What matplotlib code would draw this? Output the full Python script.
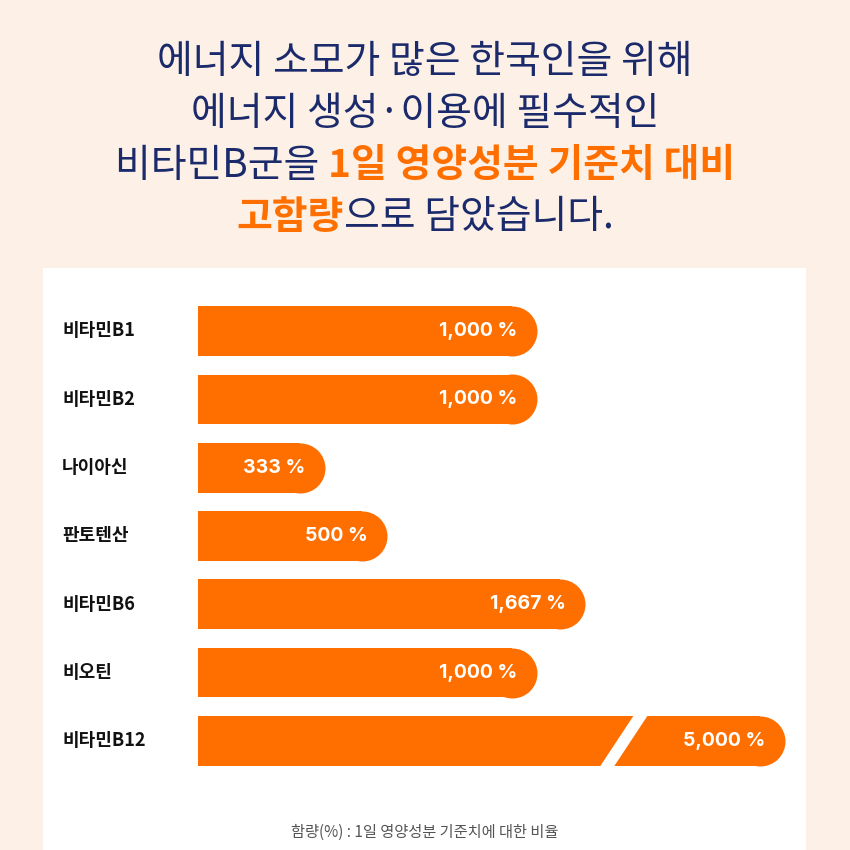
import matplotlib
matplotlib.use("Agg")
import matplotlib.pyplot as plt
import numpy as np
from matplotlib.patches import Rectangle, Polygon

plt.rcParams['font.family'] = ['Noto Sans CJK KR', 'DejaVu Sans']

categories = ["비타민B1", "비타민B2", "나이아신", "판토텐산", "비타민B6", "비오틴", "비타민B12"]
values = [1000, 1000, 333, 500, 1667, 1000, 5000]
value_labels = ["1,000 %", "1,000 %", "333 %", "500 %", "1,667 %", "1,000 %", "5,000 %"]
title_lines = [
    [("에너지 소모가 많은 한국인을 위해", False)],
    [("에너지 생성·이용에 필수적인", False)],
    [("비타민B군을 ", False), ("1일 영양성분 기준치 대비", True)],
    [("고함량", True), ("으로 담았습니다.", False)],
]
footnote = "함량(%) : 1일 영양성분 기준치에 대한 비율"

W = H = 850
BG = "#fdf0e6"; ORANGE = "#ff6f00"; NAVY = "#1b2a6b"
fig = plt.figure(figsize=(8.5, 8.5), dpi=100, facecolor=BG)
def fx(px): return px / W
def fy(py): return 1 - py / H

fig.patches.append(Rectangle((fx(43), 0), fx(806) - fx(43), fy(268), transform=fig.transFigure,
                             facecolor="white", edgecolor="none", zorder=-1))

# non-linear display scale (broken axis style)
kv = np.array([0, 333, 500, 1000, 1667, 5000, 6000], float)
kp = np.array([0, 102, 164, 314, 362, 562, 608], float)
fwd = lambda v: np.interp(v, kv, kp)
inv = lambda p: np.interp(p, kp, kv)

ax = fig.add_axes([fx(198), fy(775), fx(806) - fx(198), fy(297) - fy(775)])
ax.set_zorder(2)
ax.patch.set_visible(False)
ax.set_xscale('function', functions=(fwd, inv))
ax.set_xlim(0, 6000)
ax.set_ylim(6.5, -0.5)
ax.axis('off')
y = np.arange(len(categories))
ax.barh(y, values, height=0.73, color=ORANGE, zorder=2)
ax.scatter(values, y, s=36**2, color=ORANGE, marker='o', linewidths=0, zorder=2, clip_on=False)
for yi, v, lab in zip(y, values, value_labels):
    ax.annotate(lab, (v, yi), xytext=(4, 0), textcoords='offset points', ha='right', va='center',
                color='white', fontsize=14, fontweight='bold', family=['Inter', 'DejaVu Sans'], zorder=4)
for yi, c in zip(y, categories):
    fig.text(fx(62), fy(331 + yi * 68.3), c, ha='left', va='center', fontsize=13, fontweight='bold', color='#111111')

fig.patches.append(Polygon([(fx(597), fy(771)), (fx(611), fy(771)), (fx(650), fy(712)), (fx(636), fy(712))],
                           closed=True, transform=fig.transFigure, facecolor='white', edgecolor='none', zorder=5))

fig.canvas.draw()
r = fig.canvas.get_renderer()
ys = [62, 114, 166, 217]
for line, yc in zip(title_lines, ys):
    texts = []
    for s, hi in line:
        t = fig.text(0, fy(yc), s, ha='left', va='center', fontsize=28,
                     fontweight='bold' if hi else 'medium', color=ORANGE if hi else NAVY)
        texts.append(t)
    widths = [t.get_window_extent(r).width for t in texts]
    x = (W - sum(widths)) / 2
    for t, w in zip(texts, widths):
        t.set_x(x / W); x += w

fig.text(0.5, fy(832), footnote, ha='center', va='center', fontsize=11, color='#555555')
fig.savefig("out.png", dpi=100, facecolor=BG)
